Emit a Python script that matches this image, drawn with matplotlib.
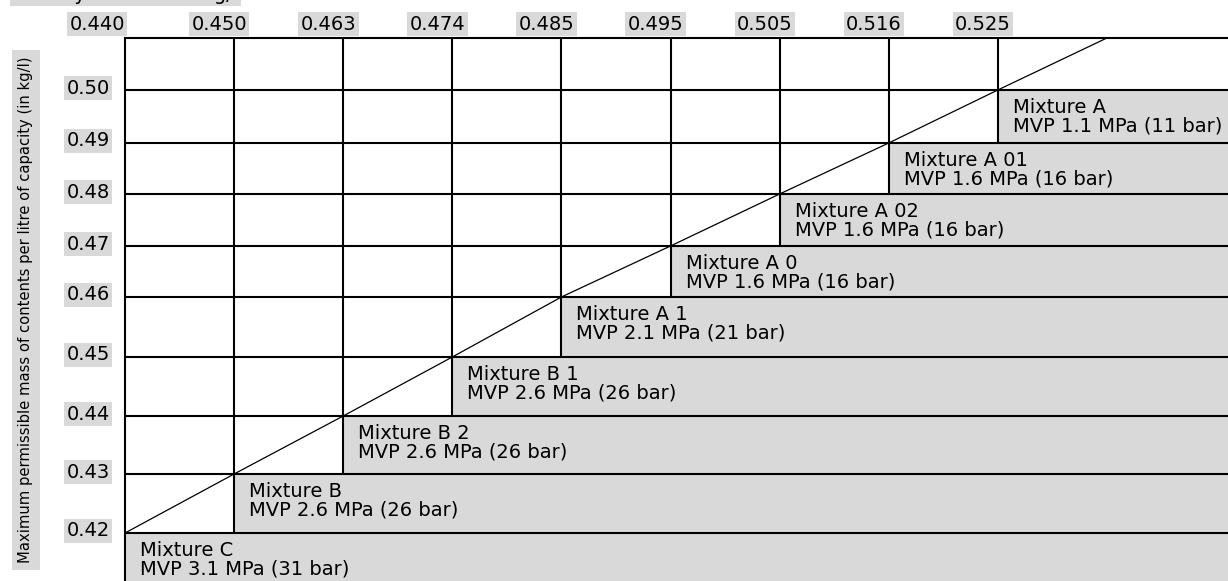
"""
Filling limits for mixtures: density at 50 C vs max mass per litre.
"""
import matplotlib
matplotlib.use('Agg')
import matplotlib.pyplot as plt
from matplotlib.transforms import offset_copy
import numpy as np

# data
density = ["0.440", "0.450", "0.463", "0.474", "0.485", "0.495", "0.505", "0.516", "0.525"]
max_mass = ["0.42", "0.43", "0.44", "0.45", "0.46", "0.47", "0.48", "0.49", "0.50"]
mixtures = ["Mixture C", "Mixture B", "Mixture B 2", "Mixture B 1", "Mixture A 1",
            "Mixture A 0", "Mixture A 02", "Mixture A 01", "Mixture A"]
mvp = ["MVP 3.1 MPa (31 bar)", "MVP 2.6 MPa (26 bar)", "MVP 2.6 MPa (26 bar)",
       "MVP 2.6 MPa (26 bar)", "MVP 2.1 MPa (21 bar)", "MVP 1.6 MPa (16 bar)",
       "MVP 1.6 MPa (16 bar)", "MVP 1.6 MPa (16 bar)", "MVP 1.1 MPa (11 bar)"]

# layout: column width and row heights (rows are not all equal, like the sheet)
COL_W = 109.1
ROW_H = [59, 58, 59, 60, 51, 52, 51, 53, 52]
GREY = "#d9d9d9"
LW = 1.5

W, H = 1228, 581
LEFT, TOP = 125, 38


def main():
    plt.rcParams['font.family'] = ['DejaVu Sans']
    fig = plt.figure(figsize=(W / 100, H / 100), dpi=100)
    ax = fig.add_axes([LEFT / W, 0, 1 - LEFT / W, (H - TOP) / H])

    n = len(density)
    cols = np.arange(n + 1) * COL_W
    y_edges = np.concatenate([[0], np.cumsum(ROW_H)])
    xmax = W - LEFT
    ax.set_xlim(0, xmax)
    ax.set_ylim(-(H - TOP - y_edges[-1]), y_edges[-1])

    # grey bands, one per mixture, running out to the right
    bottoms = np.concatenate([[-ROW_H[0]], y_edges[:n - 1]])
    heights = y_edges[:n] - bottoms
    ax.barh(bottoms, xmax - cols[:n], left=cols[:n], height=heights,
            align='edge', color=GREY, zorder=1)

    # grid
    ax.hlines(y_edges[:n], 0, xmax, color='black', lw=LW, zorder=2)
    ax.vlines(cols[1:n], y_edges[:n - 1], y_edges[-1], color='black', lw=LW, zorder=2)
    ax.plot(cols, y_edges, color='black', lw=0.9, zorder=3)

    for s in ['right', 'bottom']:
        ax.spines[s].set_visible(False)
    for s in ['top', 'left']:
        ax.spines[s].set_linewidth(LW)
        ax.spines[s].set_zorder(4)
    ax.set_xticks([])
    ax.set_yticks([])

    fs = 14
    box = dict(boxstyle='square,pad=0.12', fc=GREY, ec='none')

    # mixture labels
    tr = offset_copy(ax.transData, fig, x=15, y=-8, units='dots')
    for j in range(n):
        ax.text(cols[j], y_edges[j], mixtures[j] + "\n" + mvp[j], transform=tr,
                ha='left', va='top', fontsize=fs, linespacing=0.98, zorder=5)

    # density labels along the top
    for j in range(n):
        dx = 0 if j == 0 else 13
        trx = offset_copy(ax.transData, fig, x=dx, y=14, units='dots')
        ax.text(cols[j], y_edges[-1], density[j], transform=trx, ha='right',
                va='center', fontsize=fs, bbox=box, clip_on=False)

    # max mass labels down the left
    try_ = offset_copy(ax.transData, fig, x=-15, y=2, units='dots')
    for k in range(n):
        ax.text(0, y_edges[k], max_mass[k], transform=try_, ha='right',
                va='center', fontsize=fs, bbox=box, clip_on=False)

    fig.text(26 / W, 1 - 310 / H,
             "Maximum permissible mass of contents per litre of capacity (in kg/l)",
             rotation=90, ha='center', va='center', fontsize=10.6,
             bbox=dict(boxstyle='square,pad=0.45', fc=GREY, ec='none'))
    # axis title sits mostly above the crop, as in the source image
    fig.text(12 / W, 1.0, "Density at 50 °C in kg/l", ha='left',
             va='baseline', fontsize=fs, bbox=box)

    fig.savefig("out.png", dpi=100)


if __name__ == "__main__":
    main()
